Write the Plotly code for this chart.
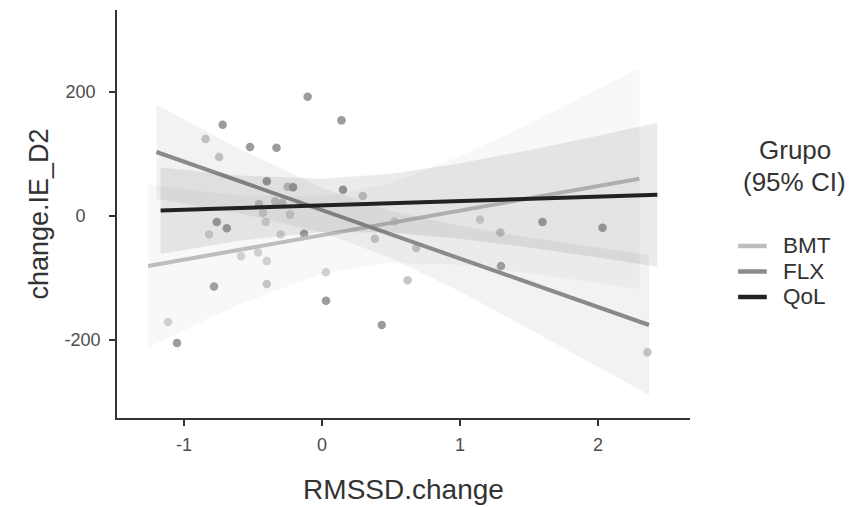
import plotly.graph_objects as go

# ---------------- data ----------------
groups = ["BMT", "FLX", "QoL"]

# scatter points per group
bmt_x = [-1.116, -0.819, -0.587, -0.464, -0.40, -0.428, -0.232, -0.408, -0.30, 0.028, 0.525, 1.145]
bmt_y = [-171, -30, -65, -59, -73, 5, 2, -10, -30, -91, -9, -6]
flx_x = [-0.844, -0.746, -0.249, 0.295, -0.457, -0.34, -0.29, 0.383, 0.683, 0.62, -0.40, 1.293, 2.359]
flx_y = [124, 95, 47, 32, 19, 23, 21, -37, -52, -104, -110, -27, -220]
qol_x = [-0.104, 0.141, -0.72, -0.522, -0.33, -0.40, -0.21, 0.152, -0.763, -0.69, -0.13,
         -0.783, 0.029, -1.051, 0.433, 1.297, 1.598, 2.033]
qol_y = [192, 154, 147, 111, 110, 56, 46, 42, -10, -20, -29, -114, -137, -205, -176, -81, -10, -19]

# fitted lines (end points)
bmt_line_x = [-1.26, 2.30]
bmt_line_y = [-81, 60]
flx_line_x = [-1.20, 2.37]
flx_line_y = [103, -176]
qol_line_x = [-1.17, 2.43]
qol_line_y = [8.5, 34]

# 95% CI ribbons
bmt_band_x = [-1.26, -0.6, 0.0, 0.5, 1.0, 1.5, 2.0, 2.30]
bmt_band_hi = [50, 33, 31, 53, 96, 148, 204, 238]
bmt_band_lo = [-212, -143, -93, -76, -79, -92, -108, -118]
flx_band_x = [-1.20, -0.6, 0.0, 0.5, 1.0, 1.5, 2.0, 2.37]
flx_band_hi = [179, 108, 45, 8, -16, -35, -51, -63]
flx_band_lo = [27, 4, -27, -68, -122, -182, -243, -289]
qol_band_x = [-1.17, -0.6, 0.0, 0.5, 1.0, 1.5, 2.0, 2.43]
qol_band_hi = [78, 65, 60, 68, 85, 106, 129, 150]
qol_band_lo = [-61, -40, -26, -27, -37, -51, -67, -82]

x_ticks = [-1, 0, 1, 2]
y_ticks = [-200, 0, 200]
y_tick_labels = ["-200", "0", "200"]
legend_title = ["Grupo", "(95% CI)"]

# ---------------- styling ----------------
line_colors = {"BMT": "#bdbdbd", "FLX": "#8a8a8a", "QoL": "#222222"}
band_colors = {"BMT": "rgba(189,189,189,0.10)", "FLX": "rgba(138,138,138,0.11)",
               "QoL": "rgba(34,34,34,0.09)"}
point_colors = {"BMT": "#d3d3d3", "FLX": "#c6c6c6", "QoL": "#9c9c9c"}
FONT = "Liberation Sans, Arial, sans-serif"
TXT = "#333333"
NB = "\u00a0"
# y tick labels are centred in the reference: pad the shorter ones on the right
y_pad = {"-200": 0, "0": 3, "200": 1}

pts = {"BMT": (bmt_x, bmt_y), "FLX": (flx_x, flx_y), "QoL": (qol_x, qol_y)}
lines = {"BMT": (bmt_line_x, bmt_line_y), "FLX": (flx_line_x, flx_line_y),
         "QoL": (qol_line_x, qol_line_y)}
bands = {"BMT": (bmt_band_x, bmt_band_lo, bmt_band_hi),
         "FLX": (flx_band_x, flx_band_lo, flx_band_hi),
         "QoL": (qol_band_x, qol_band_lo, qol_band_hi)}

fig = go.Figure()

# points first (as in the ggplot layer order)
for g in groups:
    px, py = pts[g]
    fig.add_trace(go.Scatter(x=px, y=py, mode="markers", showlegend=False,
                             marker=dict(size=8.5, color=point_colors[g], line=dict(width=0)),
                             hoverinfo="skip"))

# ribbons + lines
for g in groups:
    bx, lo, hi = bands[g]
    fig.add_trace(go.Scatter(x=list(bx) + list(bx)[::-1], y=list(hi) + list(lo)[::-1],
                             fill="toself", fillcolor=band_colors[g], mode="lines",
                             line=dict(width=0), showlegend=False, hoverinfo="skip"))
    lx, ly = lines[g]
    fig.add_trace(go.Scatter(x=lx, y=ly, mode="lines", name=g, showlegend=False,
                             line=dict(color=line_colors[g], width=4)))

# ---- legend drawn in paper coordinates (plot area: x 0..1, y 0..1) ----
annotations = []
shapes = []
leg_title_x = 1.183
for txt, yy in zip(legend_title, [0.657, 0.578]):
    annotations.append(dict(x=leg_title_x, y=yy, xref="paper", yref="paper", text=txt,
                            showarrow=False, xanchor="center", yanchor="middle",
                            font=dict(size=26, color=TXT, family=FONT)))
key_y = [0.4216, 0.3591, 0.2966]
for g, yy in zip(groups, key_y):
    shapes.append(dict(type="line", xref="paper", yref="paper", x0=1.084, x1=1.134,
                       y0=yy, y1=yy, line=dict(color=line_colors[g], width=4.5)))
    annotations.append(dict(x=1.159, y=yy, xref="paper", yref="paper", text=g,
                            showarrow=False, xanchor="left", yanchor="middle",
                            font=dict(size=22.5, color=TXT, family=FONT)))

fig.update_layout(
    width=845, height=499,
    margin=dict(l=109, r=163, t=2, b=89),
    paper_bgcolor="white", plot_bgcolor="white",
    font=dict(family=FONT, color=TXT),
    showlegend=False,
    annotations=annotations, shapes=shapes,
    xaxis=dict(
        range=[-1.486, 2.667], tickvals=x_ticks, ticktext=[str(v) for v in x_ticks],
        showgrid=False, zeroline=False, showline=True, linecolor="#333333", linewidth=1.8,
        ticks="outside", ticklen=6, tickwidth=1.8, tickcolor="#333333",
        ticklabelstandoff=3,
        tickfont=dict(size=18, color="#4d4d4d", family=FONT),
        title=dict(text="RMSSD.change", font=dict(size=28, color=TXT, family=FONT),
                   standoff=26),
    ),
    yaxis=dict(
        range=[-326, 332], tickvals=y_ticks,
        ticktext=[t + NB * y_pad[t] for t in y_tick_labels],
        showgrid=False, zeroline=False, showline=True, linecolor="#333333", linewidth=1.8,
        ticks="outside", ticklen=6, tickwidth=1.8, tickcolor="#333333",
        ticklabelstandoff=5,
        tickfont=dict(size=18, color="#4d4d4d", family=FONT),
        title=dict(text="change.IE_D2", font=dict(size=27, color=TXT, family=FONT),
                   standoff=8),
    ),
)

fig.write_html("out.html")
